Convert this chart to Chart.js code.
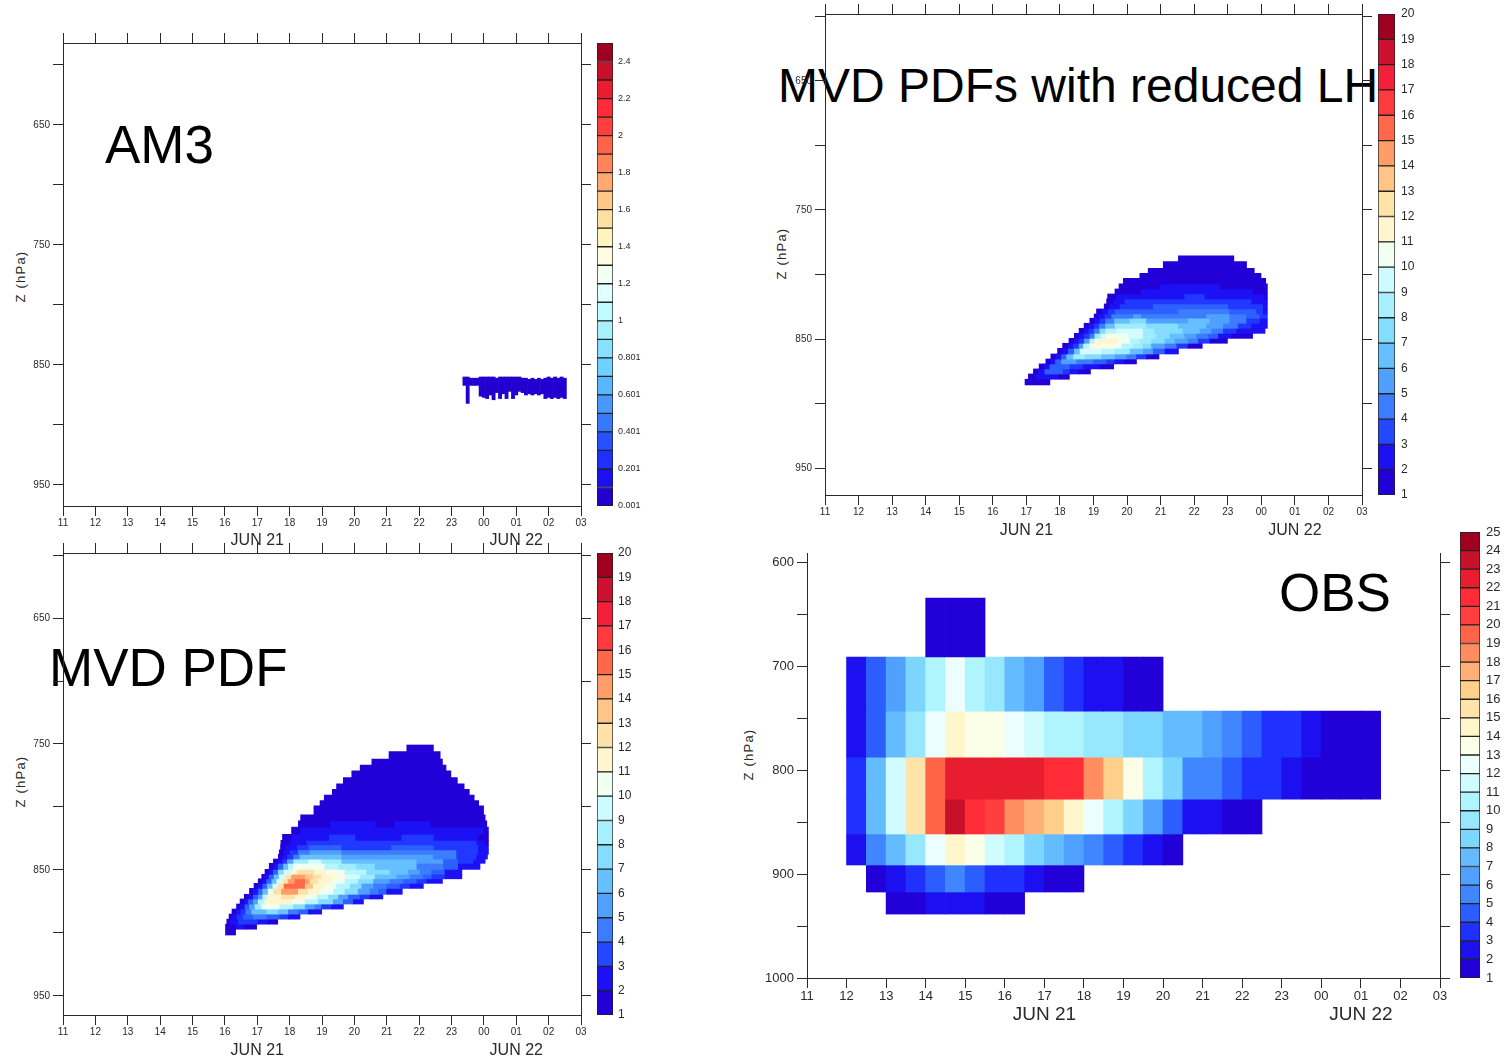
<!DOCTYPE html>
<html>
<head>
<meta charset="utf-8">
<title>MVD PDF panels</title>
<script src="https://cdn.jsdelivr.net/npm/chart.js@4/dist/chart.umd.min.js"></script>
<style>
  html, body { margin: 0; padding: 0; background: #fff; }
  body { position: relative; width: 1509px; height: 1063px; overflow: hidden; }
  canvas { position: absolute; filter: blur(0.35px); }
  .label { position: absolute; font-family: "Liberation Sans", sans-serif; line-height: 1; color: #000; white-space: nowrap; }
  .ztitle { position: absolute; width: 60px; margin-left: -30px; text-align: center; font: 13px/1 "Liberation Sans", sans-serif; letter-spacing: 1.2px; color: #2a2a2a; transform: rotate(-90deg); white-space: pre; }
</style>
</head>
<body>
<div class="label" style="left:105px;top:118px;font-size:53px">AM3</div>
<div class="label" style="left:778px;top:62px;font-size:48px">MVD PDFs with reduced LH</div>
<div class="label" style="left:49px;top:641px;font-size:53px">MVD PDF</div>
<div class="label" style="left:1279px;top:566px;font-size:53px">OBS</div>
<div class="ztitle" style="left:20px;top:270px">Z (hPa)</div>
<div class="ztitle" style="left:781px;top:247px">Z (hPa)</div>
<div class="ztitle" style="left:20px;top:775px">Z (hPa)</div>
<div class="ztitle" style="left:748px;top:748px">Z (hPa)</div>

<script>
// Axis ticks
const hourTicks = [11, 12, 13, 14, 15, 16, 17, 18, 19, 20, 21, 22, 23, 24, 25, 26, 27];
const hourLabels = ['11', '12', '13', '14', '15', '16', '17', '18', '19', '20', '21', '22', '23', '00', '01', '02', '03'];
const dateTicks = [17, 25];
const dateLabels = ['JUN 21', 'JUN 22'];
const modelPressureTicks = [600, 650, 700, 750, 800, 850, 900, 950];
const modelPressureLabels = ['', '650', '', '750', '', '850', '', '950'];
const obsPressureTicks = [600, 650, 700, 750, 800, 850, 900, 950, 1000];
const obsPressureLabels = ['600', '', '700', '', '800', '', '900', '', '1000'];

// Colour bar levels
const am3Bounds = [0.001, 0.101, 0.201, 0.301, 0.401, 0.501, 0.601, 0.701, 0.801, 0.901, 1.001, 1.101, 1.201, 1.301, 1.401, 1.501, 1.601, 1.701, 1.801, 1.901, 2.001, 2.101, 2.201, 2.301, 2.401, 2.501];
const am3BarTicks = [0.001, 0.201, 0.401, 0.601, 0.801, 1.001, 1.201, 1.401, 1.601, 1.801, 2.001, 2.201, 2.401];
const am3BarLabels = ['0.001', '0.201', '0.401', '0.601', '0.801', '1', '1.2', '1.4', '1.6', '1.8', '2', '2.2', '2.4'];
const pdfBounds = [1, 2, 3, 4, 5, 6, 7, 8, 9, 10, 11, 12, 13, 14, 15, 16, 17, 18, 19, 20];
const obsBounds = [1, 2, 3, 4, 5, 6, 7, 8, 9, 10, 11, 12, 13, 14, 15, 16, 17, 18, 19, 20, 21, 22, 23, 24, 25];

const am3Colors = ['#2200d0', '#1c10f0', '#2030ff', '#2850ff', '#3878ff', '#4898ff', '#58b8ff', '#70d0ff', '#88e0ff', '#a8f2ff', '#c0fbff', '#e0ffff', '#f2fff2', '#fffbe4', '#fff4c0', '#ffe0a0', '#ffc888', '#ffa870', '#ff8558', '#ff6448', '#ff3e3e', '#ff2c38', '#e81e30', '#c8102a', '#a00020'];
const pdfColors = ['#2200d8', '#1c10f4', '#2448ff', '#3c7cff', '#50a0ff', '#66c0ff', '#84dcff', '#a8f0ff', '#ccfcff', '#f0fff0', '#fff6d0', '#ffe2a8', '#ffc488', '#ff9c68', '#ff6848', '#ff3a3c', '#f4203a', '#cc1030', '#a00020'];
const obsColors = ['#2200d8', '#1c10f0', '#2030ff', '#2c5eff', '#3f86ff', '#50a0ff', '#64bcff', '#7dd6ff', '#97e8ff', '#b0f4ff', '#d0fbff', '#ecfffe', '#fcffe8', '#fff6cc', '#ffe3a8', '#ffd08c', '#ffb078', '#ff8d60', '#ff6448', '#ff3e3e', '#ff2c38', '#e81e30', '#c8102a', '#a00020'];
// shades as they show in the two model plumes, index = level - 1
const plumeColors = ['#2200d8', '#1c10f4', '#2038ff', '#2c60ff', '#3c7cff', '#50a0ff', '#66c0ff', '#84dcff', '#a0ecff', '#b8f6ff', '#d4fcff', '#f0fff0', '#fffbe0', '#fff6d0', '#ffe2a8', '#ffc488', '#ff9c68', '#ff6848'];

// AM3: narrow strip, one column per time
const am3Hours = [23.4, 23.5, 23.6, 23.7, 23.8, 23.9, 24, 24.1, 24.2, 24.3, 24.4, 24.5, 24.6, 24.7, 24.8, 24.9, 25, 25.1, 25.2, 25.3, 25.4, 25.5, 25.6, 25.7, 25.8, 25.9, 26, 26.1, 26.2, 26.3, 26.4, 26.5];
const am3Top = [860, 860, 861, 861, 861, 860, 860, 860, 860, 860, 861, 860, 860, 860, 860, 860, 860, 860, 861, 861, 862, 861, 862, 861, 862, 861, 860, 861, 860, 861, 860, 861];
const am3Bottom = [867, 882, 867, 867, 867, 876, 877, 878, 875, 879, 873, 878, 874, 878, 872, 878, 875, 872, 873, 875, 874, 875, 874, 875, 874, 878, 877, 878, 877, 878, 877, 878];

// MVD PDF: row edges in hPa, then for each row the time edges and the level between them
const pdfRowEdges = [750.8, 756, 762, 766.7, 771.4, 776.7, 781.7, 786, 790.5, 795, 799, 806.3, 811, 816, 821.7, 826.5, 830, 834, 837.6, 841.3, 844.7, 849.5, 853.4, 857, 860.6, 864.6, 869.3, 873, 877, 881, 885, 889, 893, 897, 901.6];
const pdfHours = [
  [21.62, 22.44],
  [21.07, 22.65],
  [20.54, 22.72],
  [20.18, 22.83],
  [19.92, 22.98],
  [19.66, 23.18],
  [19.45, 23.39],
  [19.32, 23.55],
  [19.07, 23.70],
  [18.94, 23.84],
  [18.75, 23.99],
  [18.34, 24.04],
  [18.27, 19.27, 20.67, 21.26, 22.34, 24.09],
  [18.06, 18.34, 24.01, 24.14],
  [17.78, 18.09, 19.23, 20.04, 21.46, 22.46, 23.83, 24.14],
  [17.73, 18.01, 18.53, 23.78, 24.04, 24.14],
  [17.72, 17.89, 18.24, 18.60, 19.61, 21.15, 22.46, 23.83, 24.14],
  [17.68, 17.83, 18.01, 18.27, 18.63, 19.61, 23.16, 23.83, 24.14],
  [17.65, 17.79, 17.93, 18.12, 18.32, 19.61, 22.44, 23.16, 23.78, 24.11],
  [17.50, 17.65, 17.79, 17.93, 18.12, 18.58, 18.99, 19.61, 21.93, 22.75, 23.21, 23.68, 24.04],
  [17.37, 17.52, 17.65, 17.81, 17.96, 18.12, 19.09, 19.51, 20.07, 20.64, 21.93, 22.75, 23.21, 23.88],
  [17.24, 17.37, 17.50, 17.65, 17.83, 18.06, 18.24, 18.78, 19.09, 19.45, 19.71, 20.38, 21.10, 21.67, 22.03, 22.39, 22.80, 23.32],
  [17.14, 17.24, 17.37, 17.52, 17.68, 17.89, 18.06, 18.48, 18.73, 18.99, 19.35, 19.71, 20.18, 20.64, 21.31, 21.72, 22.13, 22.39, 22.80, 23.32],
  [17.03, 17.17, 17.29, 17.45, 17.60, 17.79, 17.96, 18.17, 18.48, 18.63, 18.89, 19.30, 19.71, 20.12, 20.59, 21.10, 21.51, 21.93, 22.24, 22.72],
  [16.90, 17.03, 17.17, 17.31, 17.48, 17.65, 17.83, 18.48, 18.73, 19.09, 19.45, 19.87, 20.23, 20.59, 21.00, 21.41, 21.72, 22.13],
  [16.76, 16.88, 17.03, 17.17, 17.34, 17.50, 17.75, 18.27, 18.58, 18.94, 19.35, 19.71, 20.12, 20.48, 20.74, 21.00, 21.48],
  [16.60, 16.76, 16.88, 17.03, 17.17, 17.31, 17.75, 18.17, 18.53, 18.84, 19.20, 19.51, 19.81, 20.18, 20.48, 20.88],
  [16.47, 16.60, 16.72, 16.88, 17.03, 17.24, 18.06, 18.48, 18.89, 19.35, 19.66, 19.97, 20.28],
  [16.36, 16.49, 16.62, 16.76, 16.93, 17.14, 17.70, 18.12, 18.48, 18.78, 18.99, 19.30, 19.66],
  [16.22, 16.36, 16.49, 16.65, 16.83, 17.29, 17.65, 17.96, 18.27, 18.58, 18.99],
  [16.13, 16.24, 16.38, 16.57, 16.88, 17.29, 17.70, 17.96, 18.32],
  [16.06, 16.16, 16.42, 17.03, 17.34, 17.63],
  [16.02, 16.34, 16.62, 16.98],
  [16.02, 16.33]
];
const pdfLevels = [
  [1], [1], [1], [1], [1], [1], [1], [1], [1], [1], [1], [1],
  [1, 2, 1, 2, 1],
  [1, 2, 1],
  [1, 2, 3, 2, 3, 2, 1],
  [1, 2, 3, 2, 1],
  [1, 2, 3, 4, 3, 4, 3, 2],
  [1, 2, 3, 5, 6, 5, 3, 2],
  [1, 2, 3, 5, 7, 6, 5, 3, 2],
  [1, 2, 3, 6, 9, 11, 9, 7, 6, 4, 3, 2],
  [1, 2, 4, 7, 10, 12, 10, 9, 8, 7, 5, 4, 2],
  [1, 2, 4, 8, 11, 14, 15, 14, 13, 12, 10, 8, 7, 6, 5, 4, 2],
  [1, 2, 4, 7, 11, 15, 17, 16, 15, 14, 13, 11, 9, 7, 6, 5, 4, 3, 2],
  [1, 2, 4, 7, 11, 15, 17, 18, 17, 15, 14, 12, 10, 8, 6, 5, 4, 3, 2],
  [1, 2, 4, 7, 11, 15, 18, 16, 14, 12, 10, 8, 6, 5, 4, 3, 2],
  [1, 2, 4, 7, 12, 15, 17, 15, 14, 12, 10, 8, 6, 5, 4, 2],
  [1, 2, 4, 6, 10, 14, 15, 14, 12, 10, 8, 6, 4, 3, 2],
  [1, 2, 4, 6, 10, 14, 12, 10, 8, 6, 4, 2],
  [1, 2, 4, 6, 9, 12, 10, 8, 6, 5, 3, 2],
  [1, 2, 3, 5, 7, 8, 7, 5, 4, 2],
  [1, 2, 3, 4, 5, 4, 3, 2],
  [1, 2, 3, 2, 1],
  [1, 2, 1],
  [1]
];

// MVD PDFs with reduced LH
const lhRowEdges = [785.6, 790, 795.2, 799.1, 802.9, 807.3, 811.2, 815.1, 819, 822.8, 826.7, 830.6, 833.9, 837.8, 841.7, 845.6, 849.5, 853.3, 857.2, 861.6, 865.5, 869.3, 873.2, 877.1, 881.2, 885.6];
const lhHours = [
  [21.53, 23.18],
  [21.08, 23.56],
  [20.63, 23.79],
  [20.38, 23.99],
  [19.89, 24.13],
  [19.76, 20.98, 22.77, 24.18],
  [19.64, 20.43, 23.76, 24.18],
  [19.42, 19.69, 21.72, 22.32, 24.11, 24.18],
  [19.39, 19.59, 19.94, 23.71, 24.18],
  [19.32, 19.49, 19.79, 20.78, 23.02, 24.06, 24.18],
  [19.09, 19.26, 19.44, 19.64, 21.53, 23.06, 23.86, 24.06, 24.18],
  [19.02, 19.16, 19.34, 19.54, 20.19, 20.43, 22.37, 23.06, 23.56, 23.96, 24.18],
  [18.89, 19.04, 19.19, 19.36, 19.62, 20.09, 20.58, 21.82, 22.47, 23.06, 23.56, 23.96, 24.18],
  [18.72, 18.86, 19.02, 19.17, 19.36, 19.64, 20.58, 21.53, 22.37, 22.87, 23.31, 23.71, 24.18],
  [18.57, 18.72, 18.86, 19.02, 19.19, 19.36, 19.69, 20.48, 20.83, 21.67, 22.17, 22.52, 22.87, 23.26, 24.11],
  [18.43, 18.57, 18.72, 18.89, 19.04, 19.22, 19.39, 19.59, 20.04, 20.48, 20.88, 21.28, 21.72, 22.07, 22.42, 22.72, 23.11, 23.74],
  [18.27, 18.43, 18.57, 18.73, 18.89, 19.04, 19.74, 20.09, 20.38, 20.73, 21.13, 21.43, 21.82, 22.12, 22.47, 22.99],
  [18.08, 18.25, 18.40, 18.57, 18.70, 18.89, 19.54, 19.84, 20.19, 20.48, 20.73, 21.13, 21.48, 21.82, 22.24],
  [17.93, 18.10, 18.25, 18.43, 18.60, 19.24, 19.64, 20.09, 20.48, 20.78, 21.13, 21.53],
  [17.73, 17.90, 18.05, 18.20, 18.40, 18.75, 19.24, 19.64, 19.99, 20.28, 20.58, 20.95],
  [17.58, 17.73, 17.87, 18.05, 18.50, 18.99, 19.39, 19.64, 19.94, 20.28],
  [17.38, 17.53, 17.70, 18.30, 18.70, 19.22, 19.60],
  [17.21, 17.36, 17.55, 18.10, 18.30, 18.55, 18.91],
  [17.06, 17.28, 17.97, 18.28],
  [16.96, 17.70]
];
const lhLevels = [
  [1], [1], [1], [1], [1],
  [1, 2, 1],
  [1, 2, 1],
  [1, 2, 3, 2, 1],
  [1, 2, 3, 2],
  [1, 2, 3, 4, 3, 2],
  [1, 2, 3, 4, 5, 4, 3, 2],
  [1, 2, 3, 5, 6, 5, 6, 5, 4, 3],
  [1, 2, 3, 5, 7, 8, 6, 7, 6, 5, 3, 2],
  [1, 2, 3, 5, 7, 9, 8, 7, 6, 5, 3, 2],
  [1, 2, 3, 5, 8, 10, 11, 9, 8, 7, 6, 5, 3, 2],
  [1, 2, 3, 5, 9, 11, 13, 12, 11, 9, 8, 7, 6, 5, 4, 2, 1],
  [1, 2, 3, 6, 10, 14, 12, 10, 9, 8, 7, 6, 5, 3, 1],
  [1, 2, 3, 6, 10, 13, 12, 10, 9, 8, 6, 5, 3, 1],
  [1, 2, 4, 7, 11, 10, 9, 7, 6, 4, 2],
  [1, 2, 4, 7, 9, 8, 7, 6, 5, 3, 1],
  [1, 2, 4, 6, 5, 4, 3, 2, 1],
  [1, 2, 4, 3, 2, 1],
  [1, 2, 4, 3, 2, 1],
  [1, 2, 1],
  [1]
];

// OBS: half hour columns, each row starts at its own hour
const obsRowEdges = [634.6, 691.3, 743.3, 787.5, 827.9, 861.5, 891.3, 917.3, 938.5];
const obsRowStart = [14, 12, 12, 12, 12, 12, 12.5, 13];
const obsLevels = [
  [1, 1, 1],
  [2, 4, 6, 8, 10, 12, 10, 9, 7, 6, 4, 3, 2, 2, 1, 1],
  [2, 4, 7, 9, 12, 14, 13, 13, 12, 11, 10, 10, 9, 9, 8, 8, 7, 7, 6, 5, 4, 3, 3, 2, 1, 1, 1],
  [3, 7, 11, 15, 19, 22, 22, 22, 22, 22, 21, 21, 18, 16, 13, 10, 8, 5, 5, 4, 3, 3, 2, 1, 1, 1, 1],
  [3, 7, 11, 15, 19, 23, 21, 20, 18, 17, 16, 14, 12, 10, 8, 6, 4, 2, 2, 1, 1],
  [2, 5, 7, 9, 12, 14, 13, 11, 10, 8, 7, 6, 5, 4, 3, 2, 1],
  [1, 2, 3, 4, 5, 4, 3, 3, 2, 1, 1],
  [1, 1, 2, 2, 2, 1, 1]
];

const inkColor = '#2a2a2a';
const tickFont = 'Liberation Sans';

function fixedTicks(values) {
  return scale => { scale.ticks = values.map(value => ({ value })); };
}

function rowDatasets(edges, hours, levels, colors, pxPerHpa) {
  return levels.map((rowLevels, i) => ({
    xAxisID: 'x',
    yAxisID: 'y',
    stack: 'cells',
    barThickness: (edges[i + 1] - edges[i]) * pxPerHpa,
    inflateAmount: 0.35,
    borderWidth: 0,
    data: rowLevels.map((lv, j) => ({ x: [hours[i][j], hours[i][j + 1]], y: (edges[i] + edges[i + 1]) / 2 })),
    backgroundColor: rowLevels.map(lv => colors[lv - 1])
  }));
}

function drawPanel(box, pTicks, pLabels, datasets, indexAxis) {
  const canvas = document.createElement('canvas');
  const marginTop = 12;
  const left = box.left - box.leftWidth;
  const top = box.top - marginTop;
  const width = box.right + 11 - left;
  const height = box.bottom + box.tickHeight + box.dateHeight + 8 - top;
  canvas.width = width;
  canvas.height = height;
  canvas.style.left = left + 'px';
  canvas.style.top = top + 'px';
  document.body.appendChild(canvas);

  const sideTicks = { display: true, drawOnChartArea: false, tickLength: 10, tickColor: inkColor, lineWidth: 1 };
  const border = { display: true, color: inkColor, width: 1 };
  const hourScale = {
    type: 'linear', axis: 'x', min: 11, max: 27, offset: false, stacked: indexAxis === 'y' ? false : undefined,
    grid: { ...sideTicks, offset: false }, border,
    afterBuildTicks: fixedTicks(hourTicks)
  };
  const pressureScale = {
    type: 'linear', axis: 'y', reverse: true, min: box.pMin, max: box.pMax, offset: false,
    stacked: indexAxis === 'x' ? false : undefined,
    grid: { ...sideTicks, offset: false }, border,
    afterBuildTicks: fixedTicks(pTicks)
  };

  const scales = {
    x: {
      ...hourScale, position: 'bottom', weight: 0,
      ticks: { autoSkip: false, maxRotation: 0, padding: box.tickPad, color: inkColor, font: { family: tickFont, size: box.tickSize }, callback: (v, i) => hourLabels[i] },
      afterFit: s => { s.height = box.tickHeight; }
    },
    xDate: {
      type: 'linear', axis: 'x', position: 'bottom', weight: 1, min: 11, max: 27, offset: false,
      grid: { display: false, drawTicks: false, offset: false }, border: { display: false },
      ticks: { autoSkip: false, maxRotation: 0, padding: 0, color: inkColor, font: { family: tickFont, size: box.dateSize }, callback: (v, i) => dateLabels[i] },
      afterBuildTicks: fixedTicks(dateTicks),
      afterFit: s => { s.height = box.dateHeight; }
    },
    y: {
      ...pressureScale, position: 'left',
      ticks: { autoSkip: false, padding: 3, color: inkColor, font: { family: tickFont, size: box.tickSize }, callback: (v, i) => pLabels[i] },
      afterFit: s => { s.width = box.leftWidth; }
    },
    yRight: {
      ...pressureScale, position: 'right', stacked: undefined,
      ticks: { autoSkip: false, callback: () => '' },
      afterFit: s => { s.width = 11; }
    }
  };
  if (box.topAxis) {
    scales.xTop = {
      ...hourScale, position: 'top', stacked: undefined,
      ticks: { autoSkip: false, maxRotation: 0, callback: () => '' },
      afterFit: s => { s.height = 10; }
    };
  }

  new Chart(canvas, {
    type: 'bar',
    data: { datasets },
    options: {
      indexAxis,
      responsive: false,
      animation: false,
      layout: { padding: { left: 0, right: 0, top: box.topAxis ? marginTop - 10 : marginTop, bottom: 8 } },
      plugins: { legend: { display: false }, tooltip: { enabled: false } },
      scales
    }
  });
}

function drawColorBar(box, bounds, colors, barTicks, barLabels) {
  const canvas = document.createElement('canvas');
  const pad = 16;
  canvas.width = box.right - box.left + box.labelWidth;
  canvas.height = box.bottom - box.top + pad * 2;
  canvas.style.left = box.left + 'px';
  canvas.style.top = (box.top - pad) + 'px';
  document.body.appendChild(canvas);

  new Chart(canvas, {
    type: 'bar',
    data: {
      labels: [''],
      datasets: colors.map((color, i) => ({
        data: [[bounds[i], bounds[i + 1]]],
        backgroundColor: color,
        borderColor: '#222',
        borderWidth: 1,
        borderSkipped: false,
        grouped: false,
        barPercentage: 1,
        categoryPercentage: 1
      }))
    },
    options: {
      responsive: false,
      animation: false,
      layout: { padding: { top: pad, bottom: pad } },
      plugins: { legend: { display: false }, tooltip: { enabled: false } },
      scales: {
        x: { display: false },
        y: {
          position: 'right',
          min: bounds[0],
          max: bounds[bounds.length - 1],
          grid: { display: false, drawTicks: false },
          border: { display: false },
          ticks: { autoSkip: false, padding: box.labelPad, color: inkColor, font: { family: tickFont, size: box.labelSize }, callback: (v, i) => barLabels[i] },
          afterBuildTicks: fixedTicks(barTicks),
          afterFit: s => { s.width = box.labelWidth; }
        }
      }
    }
  });
}

// AM3
const am3Data = [{
  xAxisID: 'x', yAxisID: 'y', stack: 'cells', barThickness: 3.2, borderWidth: 0,
  backgroundColor: am3Colors[0],
  data: am3Hours.map((h, i) => ({ x: h, y: [am3Top[i], am3Bottom[i]] }))
}];
drawPanel({ left: 63, right: 581, top: 43, bottom: 506, leftWidth: 51, pMin: 581.7, pMax: 967.5, topAxis: true, tickSize: 10, tickPad: 1, tickHeight: 25, dateHeight: 26, dateSize: 16 },
  modelPressureTicks, modelPressureLabels, am3Data, 'x');
drawColorBar({ left: 597, right: 613, top: 43, bottom: 506, labelWidth: 30, labelPad: 5, labelSize: 9 }, am3Bounds, am3Colors, am3BarTicks, am3BarLabels);

// MVD PDF
drawPanel({ left: 63, right: 581, top: 553, bottom: 1015, leftWidth: 51, pMin: 598.4, pMax: 965.1, topAxis: true, tickSize: 10, tickPad: 1, tickHeight: 26, dateHeight: 26, dateSize: 16 },
  modelPressureTicks, modelPressureLabels, rowDatasets(pdfRowEdges, pdfHours, pdfLevels, plumeColors, 1.26), 'y');
drawColorBar({ left: 597, right: 613, top: 553, bottom: 1015, labelWidth: 30, labelPad: 5, labelSize: 12 }, pdfBounds, pdfColors, pdfBounds, pdfBounds.map(String));

// MVD PDFs with reduced LH
drawPanel({ left: 825, right: 1362, top: 14, bottom: 495, leftWidth: 52, pMin: 598.1, pMax: 970.9, topAxis: true, tickSize: 10, tickPad: 1, tickHeight: 26, dateHeight: 26, dateSize: 16 },
  modelPressureTicks, modelPressureLabels, rowDatasets(lhRowEdges, lhHours, lhLevels, plumeColors, 1.29), 'y');
drawColorBar({ left: 1378, right: 1395, top: 14, bottom: 495, labelWidth: 30, labelPad: 6, labelSize: 12 }, pdfBounds, pdfColors, pdfBounds, pdfBounds.map(String));

// OBS
const obsHours = obsLevels.map((row, i) => {
  const edges = [];
  for (let j = 0; j <= row.length; j++) edges.push(obsRowStart[i] + j * 0.5);
  return edges;
});
drawPanel({ left: 807, right: 1440, top: 553, bottom: 978, leftWidth: 67, pMin: 591.3, pMax: 1000, topAxis: false, tickSize: 13, tickPad: 1, tickHeight: 25, dateHeight: 26, dateSize: 19 },
  obsPressureTicks, obsPressureLabels, rowDatasets(obsRowEdges, obsHours, obsLevels, obsColors, 1.04), 'y');
drawColorBar({ left: 1460, right: 1480, top: 532, bottom: 978, labelWidth: 29, labelPad: 6, labelSize: 13 }, obsBounds, obsColors, obsBounds, obsBounds.map(String));
</script>
</body>
</html>
